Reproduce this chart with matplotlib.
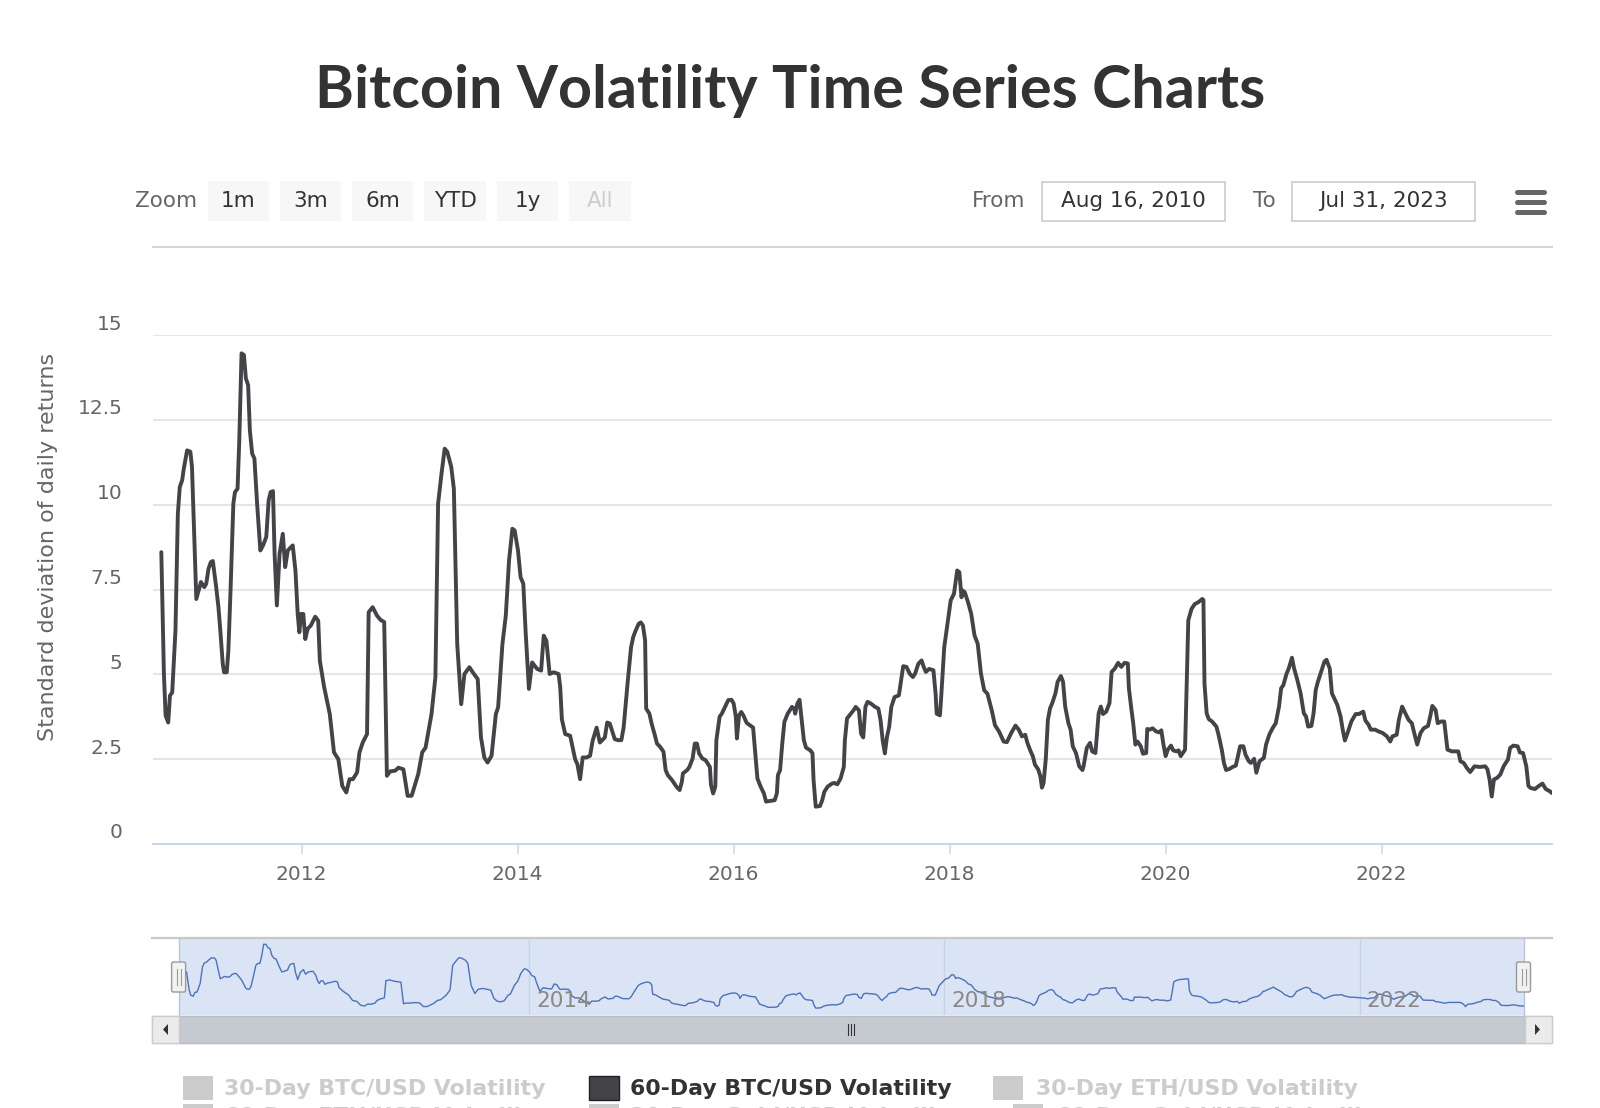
import matplotlib
matplotlib.use("Agg")
import matplotlib.pyplot as plt
from matplotlib.patches import Rectangle, FancyBboxPatch, Polygon
from matplotlib.transforms import offset_copy

# ---------------- data ----------------
title_text = "Bitcoin Volatility Time Series Charts"
y_axis_title = "Standard deviation of daily returns"
range_start_label = "Aug 16, 2010"
range_end_label = "Jul 31, 2023"
x_min_year = 2010.623   # Aug 16, 2010
x_max_year = 2023.578   # Jul 31, 2023
zoom_buttons = ["1m", "3m", "6m", "YTD", "1y", "All"]
y_ticks = [0, 2.5, 5, 7.5, 10, 12.5, 15]
y_tick_labels = ["0", "2.5", "5", "7.5", "10", "12.5", "15"]
x_tick_years = [2012, 2014, 2016, 2018, 2020, 2022]
nav_tick_years = [2014, 2018, 2022]
legend_row1 = ["30-Day BTC/USD Volatility", "60-Day BTC/USD Volatility", "30-Day ETH/USD Volatility"]
legend_row2 = ["60-Day ETH/USD Volatility", "30-Day Gold/USD Volatility", "60-Day Gold/USD Volatility"]
active_series = "60-Day BTC/USD Volatility"

# 60-day BTC/USD volatility: decimal year, value
years = [
    2010.700, 2010.724, 2010.740, 2010.764, 2010.780, 2010.801, 2010.831, 2010.853, 2010.871, 2010.893,
    2010.908, 2010.939, 2010.969, 2010.984, 2011.000, 2011.024, 2011.046, 2011.067, 2011.098, 2011.116,
    2011.137, 2011.159, 2011.177, 2011.208, 2011.229, 2011.244, 2011.269, 2011.281, 2011.306, 2011.321,
    2011.342, 2011.367, 2011.382, 2011.406, 2011.422, 2011.443, 2011.465, 2011.483, 2011.504, 2011.520,
    2011.541, 2011.562, 2011.587, 2011.617, 2011.642, 2011.672, 2011.694, 2011.712, 2011.734, 2011.749,
    2011.770, 2011.795, 2011.825, 2011.847, 2011.871, 2011.917, 2011.942, 2011.963, 2011.978, 2011.994,
    2012.015, 2012.033, 2012.055, 2012.085, 2012.125, 2012.153, 2012.168, 2012.208, 2012.260, 2012.299,
    2012.339, 2012.376, 2012.413, 2012.443, 2012.474, 2012.513, 2012.535, 2012.565, 2012.605, 2012.620,
    2012.657, 2012.697, 2012.728, 2012.764, 2012.789, 2012.819, 2012.865, 2012.896, 2012.942, 2012.981,
    2013.018, 2013.079, 2013.116, 2013.147, 2013.202, 2013.238, 2013.263, 2013.293, 2013.324, 2013.348,
    2013.385, 2013.409, 2013.440, 2013.477, 2013.507, 2013.553, 2013.584, 2013.630, 2013.660, 2013.691,
    2013.721, 2013.758, 2013.798, 2013.819, 2013.859, 2013.890, 2013.920, 2013.951, 2013.972, 2014.003,
    2014.027, 2014.052, 2014.073, 2014.104, 2014.134, 2014.180, 2014.217, 2014.241, 2014.266, 2014.296,
    2014.333, 2014.379, 2014.394, 2014.409, 2014.440, 2014.486, 2014.532, 2014.553, 2014.578, 2014.602,
    2014.639, 2014.670, 2014.694, 2014.731, 2014.761, 2014.807, 2014.829, 2014.853, 2014.899, 2014.929,
    2014.960, 2014.981, 2015.02, 2015.05, 2015.07, 2015.09, 2015.12, 2015.14, 2015.16, 2015.18,
    2015.19, 2015.22, 2015.24, 2015.27, 2015.29, 2015.32, 2015.35, 2015.37, 2015.39, 2015.43,
    2015.47, 2015.50, 2015.52, 2015.53, 2015.57, 2015.59, 2015.62, 2015.64, 2015.66, 2015.68,
    2015.71, 2015.74, 2015.78, 2015.79, 2015.81, 2015.83, 2015.84, 2015.87, 2015.89, 2015.92,
    2015.95, 2015.98, 2016.00, 2016.02, 2016.03, 2016.05, 2016.07, 2016.09, 2016.12, 2016.15,
    2016.18, 2016.20, 2016.22, 2016.25, 2016.28, 2016.30, 2016.34, 2016.38, 2016.40, 2016.41,
    2016.43, 2016.45, 2016.47, 2016.50, 2016.52, 2016.54, 2016.56, 2016.57, 2016.59, 2016.61,
    2016.63, 2016.65, 2016.67, 2016.71, 2016.73, 2016.74, 2016.76, 2016.80, 2016.82, 2016.84,
    2016.87, 2016.91, 2016.93, 2016.96, 2016.99, 2017.02, 2017.03, 2017.05, 2017.08, 2017.11,
    2017.13, 2017.16, 2017.18, 2017.20, 2017.22, 2017.24, 2017.27, 2017.31, 2017.34, 2017.36,
    2017.38, 2017.40, 2017.42, 2017.44, 2017.46, 2017.49, 2017.53, 2017.55, 2017.57, 2017.60,
    2017.63, 2017.66, 2017.68, 2017.71, 2017.74, 2017.76, 2017.78, 2017.81, 2017.85, 2017.87,
    2017.88, 2017.91, 2017.92, 2017.95, 2017.98, 2018.01, 2018.04, 2018.07, 2018.09, 2018.11,
    2018.12, 2018.14, 2018.17, 2018.20, 2018.23, 2018.26, 2018.29, 2018.32, 2018.35, 2018.39,
    2018.42, 2018.46, 2018.50, 2018.53, 2018.57, 2018.61, 2018.64, 2018.67, 2018.70, 2018.72,
    2018.75, 2018.77, 2018.79, 2018.82, 2018.84, 2018.855, 2018.87, 2018.89, 2018.91, 2018.93,
    2018.95, 2018.98, 2019.00, 2019.03, 2019.05, 2019.07, 2019.10, 2019.12, 2019.14, 2019.17,
    2019.20, 2019.23, 2019.24, 2019.27, 2019.30, 2019.32, 2019.35, 2019.38, 2019.40, 2019.42,
    2019.45, 2019.48, 2019.50, 2019.53, 2019.56, 2019.59, 2019.62, 2019.65, 2019.66, 2019.68,
    2019.70, 2019.72, 2019.74, 2019.77, 2019.79, 2019.82, 2019.83, 2019.85, 2019.88, 2019.91,
    2019.94, 2019.96, 2019.98, 2020.00, 2020.02, 2020.05, 2020.07, 2020.10, 2020.12, 2020.14,
    2020.17, 2020.18, 2020.20, 2020.21, 2020.24, 2020.27, 2020.30, 2020.34, 2020.35, 2020.36,
    2020.38, 2020.40, 2020.43, 2020.47, 2020.49, 2020.52, 2020.54, 2020.56, 2020.59, 2020.62,
    2020.65, 2020.67, 2020.69, 2020.72, 2020.74, 2020.77, 2020.79, 2020.82, 2020.84, 2020.87,
    2020.91, 2020.93, 2020.96, 2020.99, 2021.02, 2021.05, 2021.07, 2021.09, 2021.12, 2021.14,
    2021.17, 2021.19, 2021.22, 2021.25, 2021.28, 2021.30, 2021.32, 2021.35, 2021.37, 2021.39,
    2021.41, 2021.44, 2021.47, 2021.49, 2021.52, 2021.54, 2021.57, 2021.59, 2021.62, 2021.64,
    2021.66, 2021.69, 2021.72, 2021.76, 2021.79, 2021.83, 2021.85, 2021.88, 2021.90, 2021.94,
    2021.97, 2022.01, 2022.05, 2022.08, 2022.10, 2022.14, 2022.16, 2022.19, 2022.22, 2022.25,
    2022.28, 2022.31, 2022.33, 2022.36, 2022.39, 2022.43, 2022.45, 2022.47, 2022.50, 2022.52,
    2022.55, 2022.58, 2022.61, 2022.65, 2022.71, 2022.73, 2022.76, 2022.79, 2022.82, 2022.86,
    2022.91, 2022.96, 2022.98, 2023.00, 2023.02, 2023.04, 2023.07, 2023.10, 2023.13, 2023.17,
    2023.19, 2023.22, 2023.26, 2023.28, 2023.31, 2023.34, 2023.36, 2023.38, 2023.42, 2023.46,
    2023.49, 2023.52, 2023.56, 2023.578,
]
vol_60d = [
    8.60, 5.01, 3.78, 3.58, 4.37, 4.47, 6.29, 9.73, 10.52, 10.72,
    11.06, 11.60, 11.56, 11.11, 9.54, 7.22, 7.47, 7.72, 7.57, 7.67,
    8.11, 8.31, 8.34, 7.57, 6.98, 6.39, 5.31, 5.06, 5.06, 5.70,
    7.57, 10.03, 10.37, 10.47, 11.90, 14.46, 14.41, 13.72, 13.52, 12.19,
    11.51, 11.36, 10.03, 8.65, 8.80, 9.05, 10.13, 10.37, 10.40, 8.55,
    7.03, 8.55, 9.14, 8.16, 8.65, 8.80, 8.06, 6.78, 6.24, 6.78,
    6.78, 6.04, 6.34, 6.44, 6.70, 6.58, 5.40, 4.62, 3.83, 2.70,
    2.50, 1.71, 1.52, 1.91, 1.91, 2.11, 2.70, 2.99, 3.24, 6.83,
    6.98, 6.73, 6.61, 6.54, 2.01, 2.14, 2.16, 2.25, 2.20, 1.42,
    1.42, 2.06, 2.70, 2.84, 3.83, 4.91, 10.03, 10.87, 11.65, 11.56,
    11.11, 10.47, 5.90, 4.12, 5.01, 5.21, 5.06, 4.86, 3.14, 2.55,
    2.40, 2.60, 3.83, 4.03, 5.90, 6.73, 8.36, 9.29, 9.24, 8.65,
    7.86, 7.67, 6.29, 4.57, 5.35, 5.16, 5.11, 6.14, 5.99, 5.01,
    5.06, 5.01, 4.62, 3.68, 3.24, 3.19, 2.50, 2.35, 1.91, 2.55,
    2.55, 2.60, 3.04, 3.43, 2.99, 3.14, 3.58, 3.55, 3.09, 3.06,
    3.06, 3.43, 4.82, 5.80, 6.10, 6.27, 6.49, 6.53, 6.44, 6.00,
    3.99, 3.84, 3.55, 3.21, 2.96, 2.86, 2.72, 2.18, 2.03, 1.88,
    1.69, 1.59, 1.83, 2.08, 2.18, 2.27, 2.52, 2.96, 2.96, 2.67,
    2.52, 2.47, 2.27, 1.74, 1.49, 1.69, 3.06, 3.75, 3.84, 4.04,
    4.24, 4.25, 4.14, 3.75, 3.11, 3.79, 3.89, 3.79, 3.57, 3.50,
    3.43, 2.67, 1.93, 1.69, 1.49, 1.25, 1.27, 1.29, 1.49, 2.03,
    2.18, 2.96, 3.60, 3.84, 3.94, 4.04, 3.99, 3.84, 4.14, 4.25,
    3.65, 3.06, 2.84, 2.76, 2.67, 1.88, 1.10, 1.12, 1.29, 1.54,
    1.69, 1.78, 1.80, 1.76, 1.93, 2.27, 3.06, 3.70, 3.82, 3.94,
    4.04, 3.94, 3.25, 3.14, 4.04, 4.19, 4.14, 4.04, 3.99, 3.65,
    3.06, 2.67, 3.16, 3.45, 4.04, 4.33, 4.38, 4.82, 5.24, 5.22,
    5.02, 4.92, 5.02, 5.31, 5.41, 5.22, 5.07, 5.16, 5.12, 4.43,
    3.84, 3.79, 4.24, 5.80, 6.49, 7.18, 7.37, 8.06, 8.01, 7.27,
    7.47, 7.42, 7.13, 6.78, 6.15, 5.90, 5.02, 4.53, 4.43, 3.94,
    3.50, 3.30, 3.02, 3.00, 3.27, 3.49, 3.37, 3.17, 3.22, 2.98,
    2.73, 2.59, 2.34, 2.20, 2.00, 1.66, 1.80, 2.49, 3.66, 4.00,
    4.15, 4.44, 4.78, 4.95, 4.78, 4.05, 3.56, 3.37, 2.88, 2.68,
    2.29, 2.18, 2.29, 2.83, 2.98, 2.73, 2.68, 3.85, 4.05, 3.83,
    3.90, 4.15, 5.07, 5.17, 5.34, 5.22, 5.34, 5.32, 4.59, 4.05,
    3.56, 2.93, 3.02, 2.88, 2.66, 2.68, 3.39, 3.37, 3.41, 3.32,
    3.29, 3.35, 2.93, 2.59, 2.78, 2.90, 2.76, 2.73, 2.76, 2.59,
    2.73, 2.78, 5.41, 6.59, 6.93, 7.07, 7.12, 7.22, 7.19, 4.73,
    3.85, 3.68, 3.61, 3.46, 3.22, 2.78, 2.39, 2.18, 2.21, 2.27,
    2.31, 2.59, 2.88, 2.88, 2.63, 2.44, 2.39, 2.51, 2.10, 2.44,
    2.54, 2.93, 3.22, 3.41, 3.56, 4.05, 4.59, 4.68, 5.02, 5.17,
    5.49, 5.17, 4.83, 4.44, 3.85, 3.76, 3.46, 3.48, 3.85, 4.54,
    4.78, 5.07, 5.37, 5.43, 5.17, 4.44, 4.24, 4.10, 3.76, 3.37,
    3.05, 3.32, 3.61, 3.83, 3.83, 3.90, 3.64, 3.51, 3.37, 3.37,
    3.32, 3.27, 3.17, 3.02, 3.17, 3.22, 3.66, 4.05, 3.85, 3.66,
    3.56, 3.17, 2.93, 3.27, 3.41, 3.48, 3.76, 4.07, 3.95, 3.56,
    3.61, 3.61, 2.78, 2.73, 2.73, 2.44, 2.39, 2.24, 2.12, 2.29,
    2.27, 2.29, 2.20, 1.90, 1.40, 1.90, 1.95, 2.05, 2.29, 2.49,
    2.83, 2.90, 2.88, 2.70, 2.68, 2.29, 1.71, 1.65, 1.62, 1.72,
    1.78, 1.62, 1.55, 1.50,
]

# ---------------- figure ----------------
W, H = 1600, 1108
fig = plt.figure(figsize=(16, 11.08), dpi=100)
fig.patch.set_facecolor("white")

def frac_rect(l, t, r, b):
    return [l / W, 1 - b / H, (r - l) / W, (b - t) / H]

PT = 0.72  # points per pixel at dpi 100
LINE_COLOR = "#434348"
GRID = "#e6e6e6"
AXIS = "#ccd6eb"
LABEL = "#666666"
FONT = "DejaVu Sans"

# overlay for UI chrome in pixel coordinates
ui = fig.add_axes([0, 0, 1, 1], zorder=0)
ui.set_xlim(0, W)
ui.set_ylim(H, 0)
ui.axis("off")

# ---------------- main plot ----------------
ax = fig.add_axes(frac_rect(153, 335, 1552, 844), zorder=2)
ax.set_facecolor("none")
ax.plot(years, vol_60d, color=LINE_COLOR, lw=2.8, solid_joinstyle="round",
        solid_capstyle="round", zorder=3)
ax.set_xlim(x_min_year, x_max_year)
ax.set_ylim(0, 15)
ax.set_axisbelow(True)
ax.set_yticks(y_ticks)
ax.set_yticklabels([])
ax.tick_params(axis="y", length=0)
ax.yaxis.grid(True, color=GRID, lw=1.5)
for s in ["top", "right", "left"]:
    ax.spines[s].set_visible(False)
ax.spines["bottom"].set_color(AXIS)
ax.spines["bottom"].set_linewidth(1.5)
ax.set_xticks(x_tick_years)
ax.set_xticklabels([str(y) for y in x_tick_years], fontsize=14.5, color=LABEL, family=FONT)
ax.tick_params(axis="x", length=7.2, width=1.1, color=AXIS, pad=8)

ytrans = offset_copy(ax.get_yaxis_transform(), fig=fig, x=0, y=11, units="dots")
for v, lab in zip(y_ticks, y_tick_labels):
    ax.text(-(153 - 122.5) / 1399.0, v, lab, transform=ytrans, ha="right", va="center",
            fontsize=14.5, color=LABEL, family=FONT, clip_on=False)

ui.text(48, 547, y_axis_title, rotation=90, ha="center", va="center",
        fontsize=16, color=LABEL, family=FONT)

# ---------------- title ----------------
t = ui.text(790, 108.5, title_text, ha="center", va="baseline", fontsize=40,
            family=["Lato", "DejaVu Sans"], fontweight="bold", color="#333333")
renderer = fig.canvas.get_renderer()
bw = t.get_window_extent(renderer).width
t.set_fontsize(40 * 949.0 / bw)

# ---------------- range selector ----------------
ui.text(197, 201, "Zoom", ha="right", va="center", fontsize=15.5, color=LABEL, family=FONT)
btn_x = [(208, 269), (280, 341), (352, 413), (424, 486), (497, 558), (569, 631)]
for (x0, x1), lab in zip(btn_x, zoom_buttons):
    ui.add_patch(Rectangle((x0, 181), x1 - x0, 40, facecolor="#f7f7f7", edgecolor="none"))
    col = "#cccccc" if lab == "All" else "#333333"
    ui.text((x0 + x1) / 2, 201, lab, ha="center", va="center", fontsize=15.5, color=col, family=FONT)

ui.text(1025, 201, "From", ha="right", va="center", fontsize=15.5, color=LABEL, family=FONT)
ui.add_patch(Rectangle((1042, 182), 183, 39, facecolor="white", edgecolor="#cccccc", lw=1.2))
ui.text(1133.5, 201, range_start_label, ha="center", va="center", fontsize=15.5, color="#333333", family=FONT)
ui.text(1276, 201, "To", ha="right", va="center", fontsize=15.5, color=LABEL, family=FONT)
ui.add_patch(Rectangle((1292, 182), 183, 39, facecolor="white", edgecolor="#cccccc", lw=1.2))
ui.text(1383.5, 201, range_end_label, ha="center", va="center", fontsize=15.5, color="#333333", family=FONT)

for yy in (192, 202, 212):
    ui.plot([1517, 1544], [yy, yy], color="#666666", lw=5 * PT, solid_capstyle="round")

ui.plot([153, 1552], [247, 247], color="#d6d6d6", lw=1.5)

# ---------------- navigator ----------------
NL, NR, NT, NB = 178.6, 1523.5, 938, 1015
ui.add_patch(Rectangle((NL, NT), NR - NL, NB - NT, facecolor="#dae4f5", edgecolor="none"))
nav = fig.add_axes(frac_rect(NL, NT, NR, NB), zorder=1)
nav.set_facecolor("none")
nav.plot(years, vol_60d, color="#4d72b8", lw=1.0)
nav.set_xlim(x_min_year, x_max_year)
nav.set_ylim(-0.35, 15.75)
nav.set_xticks(nav_tick_years)
nav.set_yticks([])
nav.tick_params(axis="x", length=0, labelbottom=False)
nav.xaxis.grid(True, color="#c9d3e6", lw=1)
nav.set_axisbelow(True)
for s in nav.spines.values():
    s.set_visible(False)
ntrans = offset_copy(nav.get_xaxis_transform(), fig=fig, x=7, y=0, units="dots")
for yv in nav_tick_years:
    nav.text(yv, 0.18, str(yv), transform=ntrans, ha="left", va="center",
             fontsize=15.5, color="#888888", family=FONT, clip_on=False)

ui.plot([152, 1552], [937.5, 937.5], color="#c8c8c8", lw=1.6)
ui.plot([NL, NL], [937.5, NB], color="#b9c4d8", lw=1.0)
ui.plot([NR, NR], [937.5, NB], color="#b9c4d8", lw=1.0)

for hx in (NL, NR):
    ui.add_patch(FancyBboxPatch((hx - 7, 962), 14, 30, boxstyle="round,pad=0,rounding_size=2",
                                facecolor="#f2f2f2", edgecolor="#999999", lw=1.0, zorder=5))
    for dx in (-2, 2):
        ui.plot([hx + dx, hx + dx], [969, 985], color="#999999", lw=0.8, zorder=6)

# scrollbar
ui.add_patch(Rectangle((152, 1016), 1400, 27, facecolor="#f2f2f2", edgecolor="#cccccc", lw=1.0))
ui.add_patch(Rectangle((NL, 1016), NR + 1 - NL, 27, facecolor="#c5c9d0", edgecolor="#b8bcc4", lw=1.0))
ui.add_patch(Rectangle((152, 1016), NL - 152, 27, facecolor="#ebebeb", edgecolor="#cccccc", lw=1.0))
ui.add_patch(Rectangle((NR + 1, 1016), 1552 - NR - 1, 27, facecolor="#ebebeb", edgecolor="#cccccc", lw=1.0))
ui.add_patch(Polygon([[168, 1024], [168, 1035], [163, 1029.5]], closed=True, facecolor="#333333"))
ui.add_patch(Polygon([[1535, 1024], [1535, 1035], [1540, 1029.5]], closed=True, facecolor="#333333"))
cx = (NL + NR) / 2
for dx in (-3, 0, 3):
    ui.plot([cx + dx, cx + dx], [1024, 1035], color="#333333", lw=0.8)

# ---------------- legend ----------------
leg_box_x = [183, 589, 993]
leg_text_x = [224.5, 629.5, 1035.5]
for bx, tx, lab in zip(leg_box_x, leg_text_x, legend_row1):
    on = lab == active_series
    ui.add_patch(Rectangle((bx, 1076), 30, 24, facecolor=LINE_COLOR if on else "#cccccc",
                           edgecolor="#222222" if on else "none", lw=1.0))
    ui.text(tx, 1089, lab, ha="left", va="center", fontsize=15.8, fontweight="bold",
            color="#333333" if on else "#cccccc", family=FONT)
# second legend row is cut off by the bottom edge, as in the reference
leg2_box_x = [183, 589, 1013]
leg2_text_x = [224.5, 629.5, 1055.5]
for bx, tx, lab in zip(leg2_box_x, leg2_text_x, legend_row2):
    ui.add_patch(Rectangle((bx, 1104), 30, 24, facecolor="#cccccc", edgecolor="none"))
    ui.text(tx, 1117, lab, ha="left", va="center", fontsize=15.8, fontweight="bold",
            color="#cccccc", family=FONT)

fig.savefig("out.png", dpi=100, facecolor="white")
